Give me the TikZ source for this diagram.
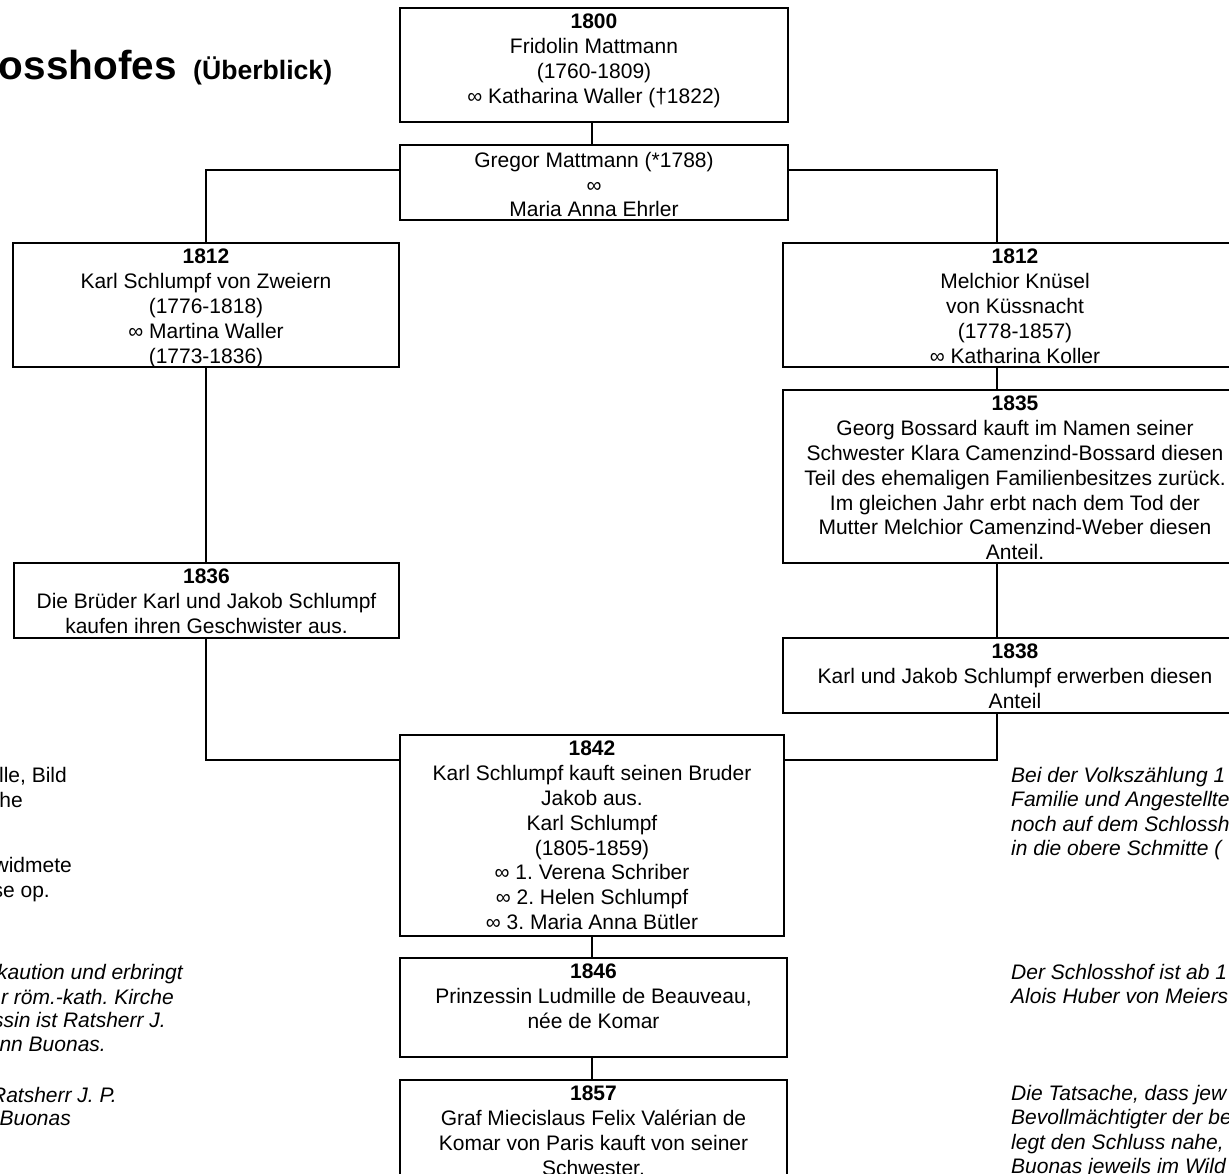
\documentclass[tikz,border=0pt]{standalone}
\usepackage{fontspec}
\setmainfont{Liberation Sans}
\usetikzlibrary{calc}
\frenchspacing
\begin{document}
\begin{tikzpicture}[x=1pt,y=-1pt,
  box/.style={draw, line width=2pt, inner sep=0pt, outer sep=0pt, anchor=north west},
  txt/.style={align=center, inner sep=0pt, outer sep=0pt, anchor=north, font=\fontsize{21}{24.85}\selectfont},
  lnote/.style={inner sep=0pt, anchor=base east, font=\fontsize{21}{24.85}\selectfont},
  lnotei/.style={lnote, font=\fontsize{21}{24.85}\selectfont\itshape},
  rnote/.style={align=left, inner sep=0pt, anchor=north west, font=\fontsize{21}{24.3}\selectfont\itshape},
  conn/.style={line width=2pt}]
\useasboundingbox (0,0) rectangle (1229,1174);
\clip (0,0) rectangle (1229,1174);

% title
\node[anchor=base east, inner sep=0pt, font=\fontsize{40.5}{48}\selectfont\bfseries] (title) at (177,80) {osshofes};
\node[anchor=base west, inner sep=0pt, font=\fontsize{26.6}{32}\selectfont\bfseries] (subtitle) at (193,80) {(Überblick)};

% boxes
\node[box, minimum width=388pt, minimum height=114pt] (b1800) at (400,8) {};
\node[box, minimum width=388pt, minimum height=75pt] (bGregor) at (400,145) {};
\node[box, minimum width=386pt, minimum height=124pt] (b1812L) at (13,243) {};
\node[box, minimum width=464pt, minimum height=124pt] (b1812R) at (783,243) {};
\node[box, minimum width=464pt, minimum height=173pt] (b1835) at (783,390) {};
\node[box, minimum width=385pt, minimum height=75pt] (b1836) at (14,563) {};
\node[box, minimum width=464pt, minimum height=75pt] (b1838) at (783,638) {};
\node[box, minimum width=384pt, minimum height=201pt] (b1842) at (400,735) {};
\node[box, minimum width=387pt, minimum height=99pt] (b1846) at (400,958) {};
\node[box, minimum width=387pt, minimum height=140pt] (b1857) at (400,1080) {};

% texts
\node[txt] (t1800) at ($(b1800.north)+(0,6)$) {\textbf{1800}\\Fridolin Mattmann\\(1760-1809)\\∞ Katharina Waller (†1822)};
\node[txt] (tGregor) at ($(bGregor.north)+(0,7)$) {Gregor Mattmann (*1788)\\∞\\Maria Anna Ehrler};
\node[txt] (t1812L) at ($(b1812L.north)+(0,6)$) {\textbf{1812}\\Karl Schlumpf von Zweiern\\(1776-1818)\\∞ Martina Waller\\(1773-1836)};
\node[txt] (t1812R) at ($(b1812R.north)+(0,6)$) {\textbf{1812}\\Melchior Knüsel\\von Küssnacht\\(1778-1857)\\∞ Katharina Koller};
\node[txt] (t1835) at ($(b1835.north)+(0,6)$) {\textbf{1835}\\Georg Bossard kauft im Namen seiner\\Schwester Klara Camenzind-Bossard diesen\\Teil des ehemaligen Familienbesitzes zurück.\\Im gleichen Jahr erbt nach dem Tod der\\Mutter Melchior Camenzind-Weber diesen\\Anteil.};
\node[txt] (t1836) at ($(b1836.north)+(0,6)$) {\textbf{1836}\\Die Brüder Karl und Jakob Schlumpf\\kaufen ihren Geschwister aus.};
\node[txt] (t1838) at ($(b1838.north)+(0,6)$) {\textbf{1838}\\Karl und Jakob Schlumpf erwerben diesen\\Anteil};
\node[txt] (t1842) at ($(b1842.north)+(0,6)$) {\textbf{1842}\\Karl Schlumpf kauft seinen Bruder\\Jakob aus.\\Karl Schlumpf\\(1805-1859)\\∞ 1. Verena Schriber\\∞ 2. Helen Schlumpf\\∞ 3. Maria Anna Bütler};
\node[txt] (t1846) at ($(b1846.north)+(0,6)$) {\textbf{1846}\\Prinzessin Ludmille de Beauveau,\\née de Komar};
\node[txt] (t1857) at ($(b1857.north)+(0,6)$) {\textbf{1857}\\Graf Miecislaus Felix Valérian de\\Komar von Paris kauft von seiner\\Schwester.};

% connectors
\coordinate (gl) at ($(bGregor.north west)!0.333!(bGregor.south west)$);
\coordinate (gr) at ($(bGregor.north east)!0.333!(bGregor.south east)$);
\coordinate (cx) at (592,0);
\coordinate (rx) at (997,0);
\coordinate (jy) at ($(b1842.north)+(0,25)$);
\draw[conn] (cx |- b1800.south) -- (cx |- bGregor.north);
\draw[conn] (gl) -| (b1812L.north);
\draw[conn] (gr) -| (rx |- b1812R.north);
\draw[conn] (rx |- b1812R.south) -- (rx |- b1835.north);
\draw[conn] (rx |- b1835.south) -- (rx |- b1838.north);
\draw[conn] (b1812L.south) -- (b1812L.south |- b1836.north);
\draw[conn] (b1812L.south |- b1836.south) |- (b1842.west |- jy);
\draw[conn] (rx |- b1838.south) |- (b1842.east |- jy);
\draw[conn] (cx |- b1842.south) -- (cx |- b1846.north);
\draw[conn] (cx |- b1846.south) -- (cx |- b1857.north);

% left notes (cut at the picture's edge)
\node[lnote] (l1) at (67,782) {lle, Bild};
\node[lnote] (l2) at (23,807) {he};
\node[lnote] (l3) at (72,872) {widmete};
\node[lnote] (l4) at (50,897) {se op.};
\node[lnotei] (l5) at (183,979) {kaution und erbringt};
\node[lnotei] (l6) at (174,1004) {r röm.-kath. Kirche};
\node[lnotei] (l7) at (166,1027) {ssin ist Ratsherr J.};
\node[lnotei] (l8) at (106,1051) {nn Buonas.};
\node[lnotei] (l9) at (117,1102) {Ratsherr J. P.};
\node[lnotei] (l10) at (71,1125) {Buonas};

% right notes (cut at the picture's edge)
\node[rnote] (r1) at (1011,767) {Bei der Volkszählung 1\\Familie und Angestellte\\noch auf dem Schlossh\\in die obere Schmitte (};
\node[rnote] (r2) at (1011,964) {Der Schlosshof ist ab 1\\Alois Huber von Meiers};
\node[rnote] (r3) at (1011,1085) {Die Tatsache, dass jew\\Bevollmächtigter der be\\legt den Schluss nahe,\\Buonas jeweils im Wild};
\end{tikzpicture}
\end{document}
